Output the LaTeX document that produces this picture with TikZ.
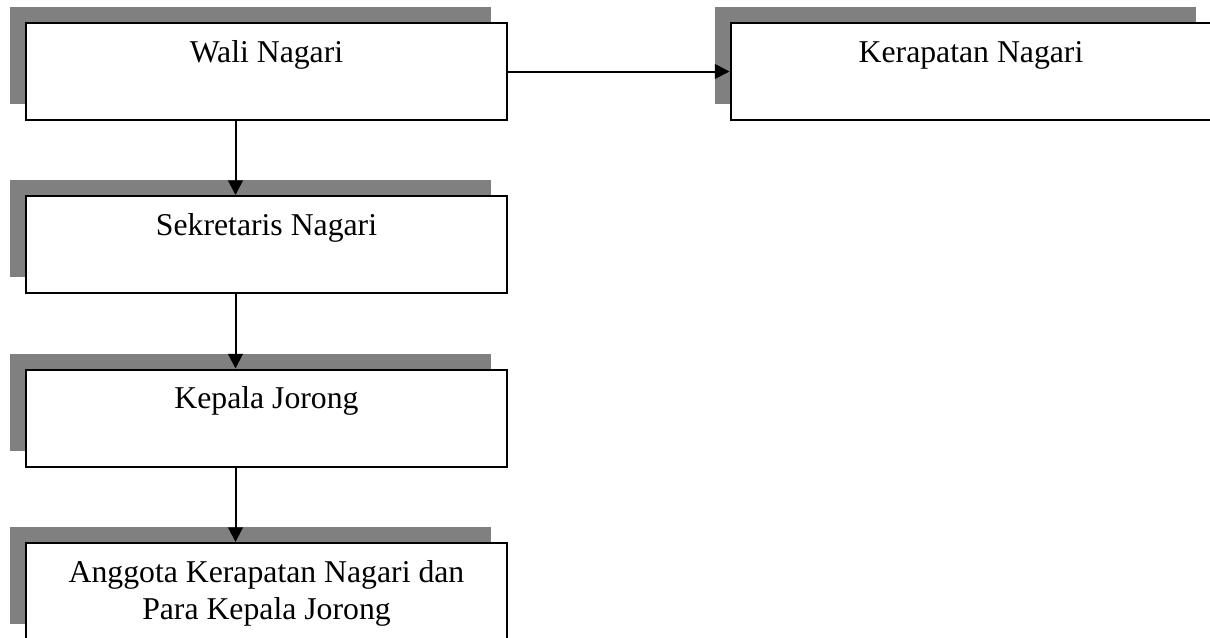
\documentclass[tikz,border=0pt]{standalone}
\usepackage{fontspec}
\setmainfont{Liberation Serif}
\usetikzlibrary{arrows.meta,shadows}
\begin{document}
\begin{tikzpicture}[x=0.75pt,y=-0.75pt,
  orgbox/.style={draw=black, line width=1.5pt, fill=white, rectangle, inner sep=0pt,
    minimum width=360.75pt, minimum height=72.75pt,
    drop shadow={shadow xshift=-12pt, shadow yshift=12pt, fill=black!50, opacity=1, draw=none}},
  lbl/.style={font=\fontsize{23.8}{27.75}\selectfont, inner sep=0pt, anchor=base, align=center},
  conn/.style={line width=1.5pt, -{Triangle[width=11pt,length=11pt]}}]
\useasboundingbox (0,0) rectangle (1210,637);
\clip (0,0) rectangle (1210,637);
\node[orgbox] (wali) at (266.5,71.5) {};
\node[orgbox] (sek) at (266.5,244.5) {};
\node[orgbox] (kep) at (266.5,418) {};
\node[orgbox] (ang) at (266.5,591.5) {};
\node[orgbox] (ker) at (971,71.5) {};
\node[lbl] (waliT) at ([yshift=-30pt]wali.north) {Wali Nagari};
\node[lbl] (sekT) at ([yshift=-30pt]sek.north) {Sekretaris Nagari};
\node[lbl] (kepT) at ([yshift=-30pt]kep.north) {Kepala Jorong};
\node[lbl] (angT) at ([yshift=-57.75pt]ang.north) {Anggota Kerapatan Nagari dan\\Para Kepala Jorong};
\node[lbl] (kerT) at ([yshift=-30pt]ker.north) {Kerapatan Nagari};
\draw[conn] ([xshift=-23.25pt]wali.south) -- ([xshift=-23.25pt]sek.north);
\draw[conn] ([xshift=-23.25pt]sek.south) -- ([xshift=-23.25pt]kep.north);
\draw[conn] ([xshift=-23.25pt]kep.south) -- ([xshift=-23.25pt]ang.north);
\draw[conn] (wali) -- (ker);
\end{tikzpicture}
\end{document}
